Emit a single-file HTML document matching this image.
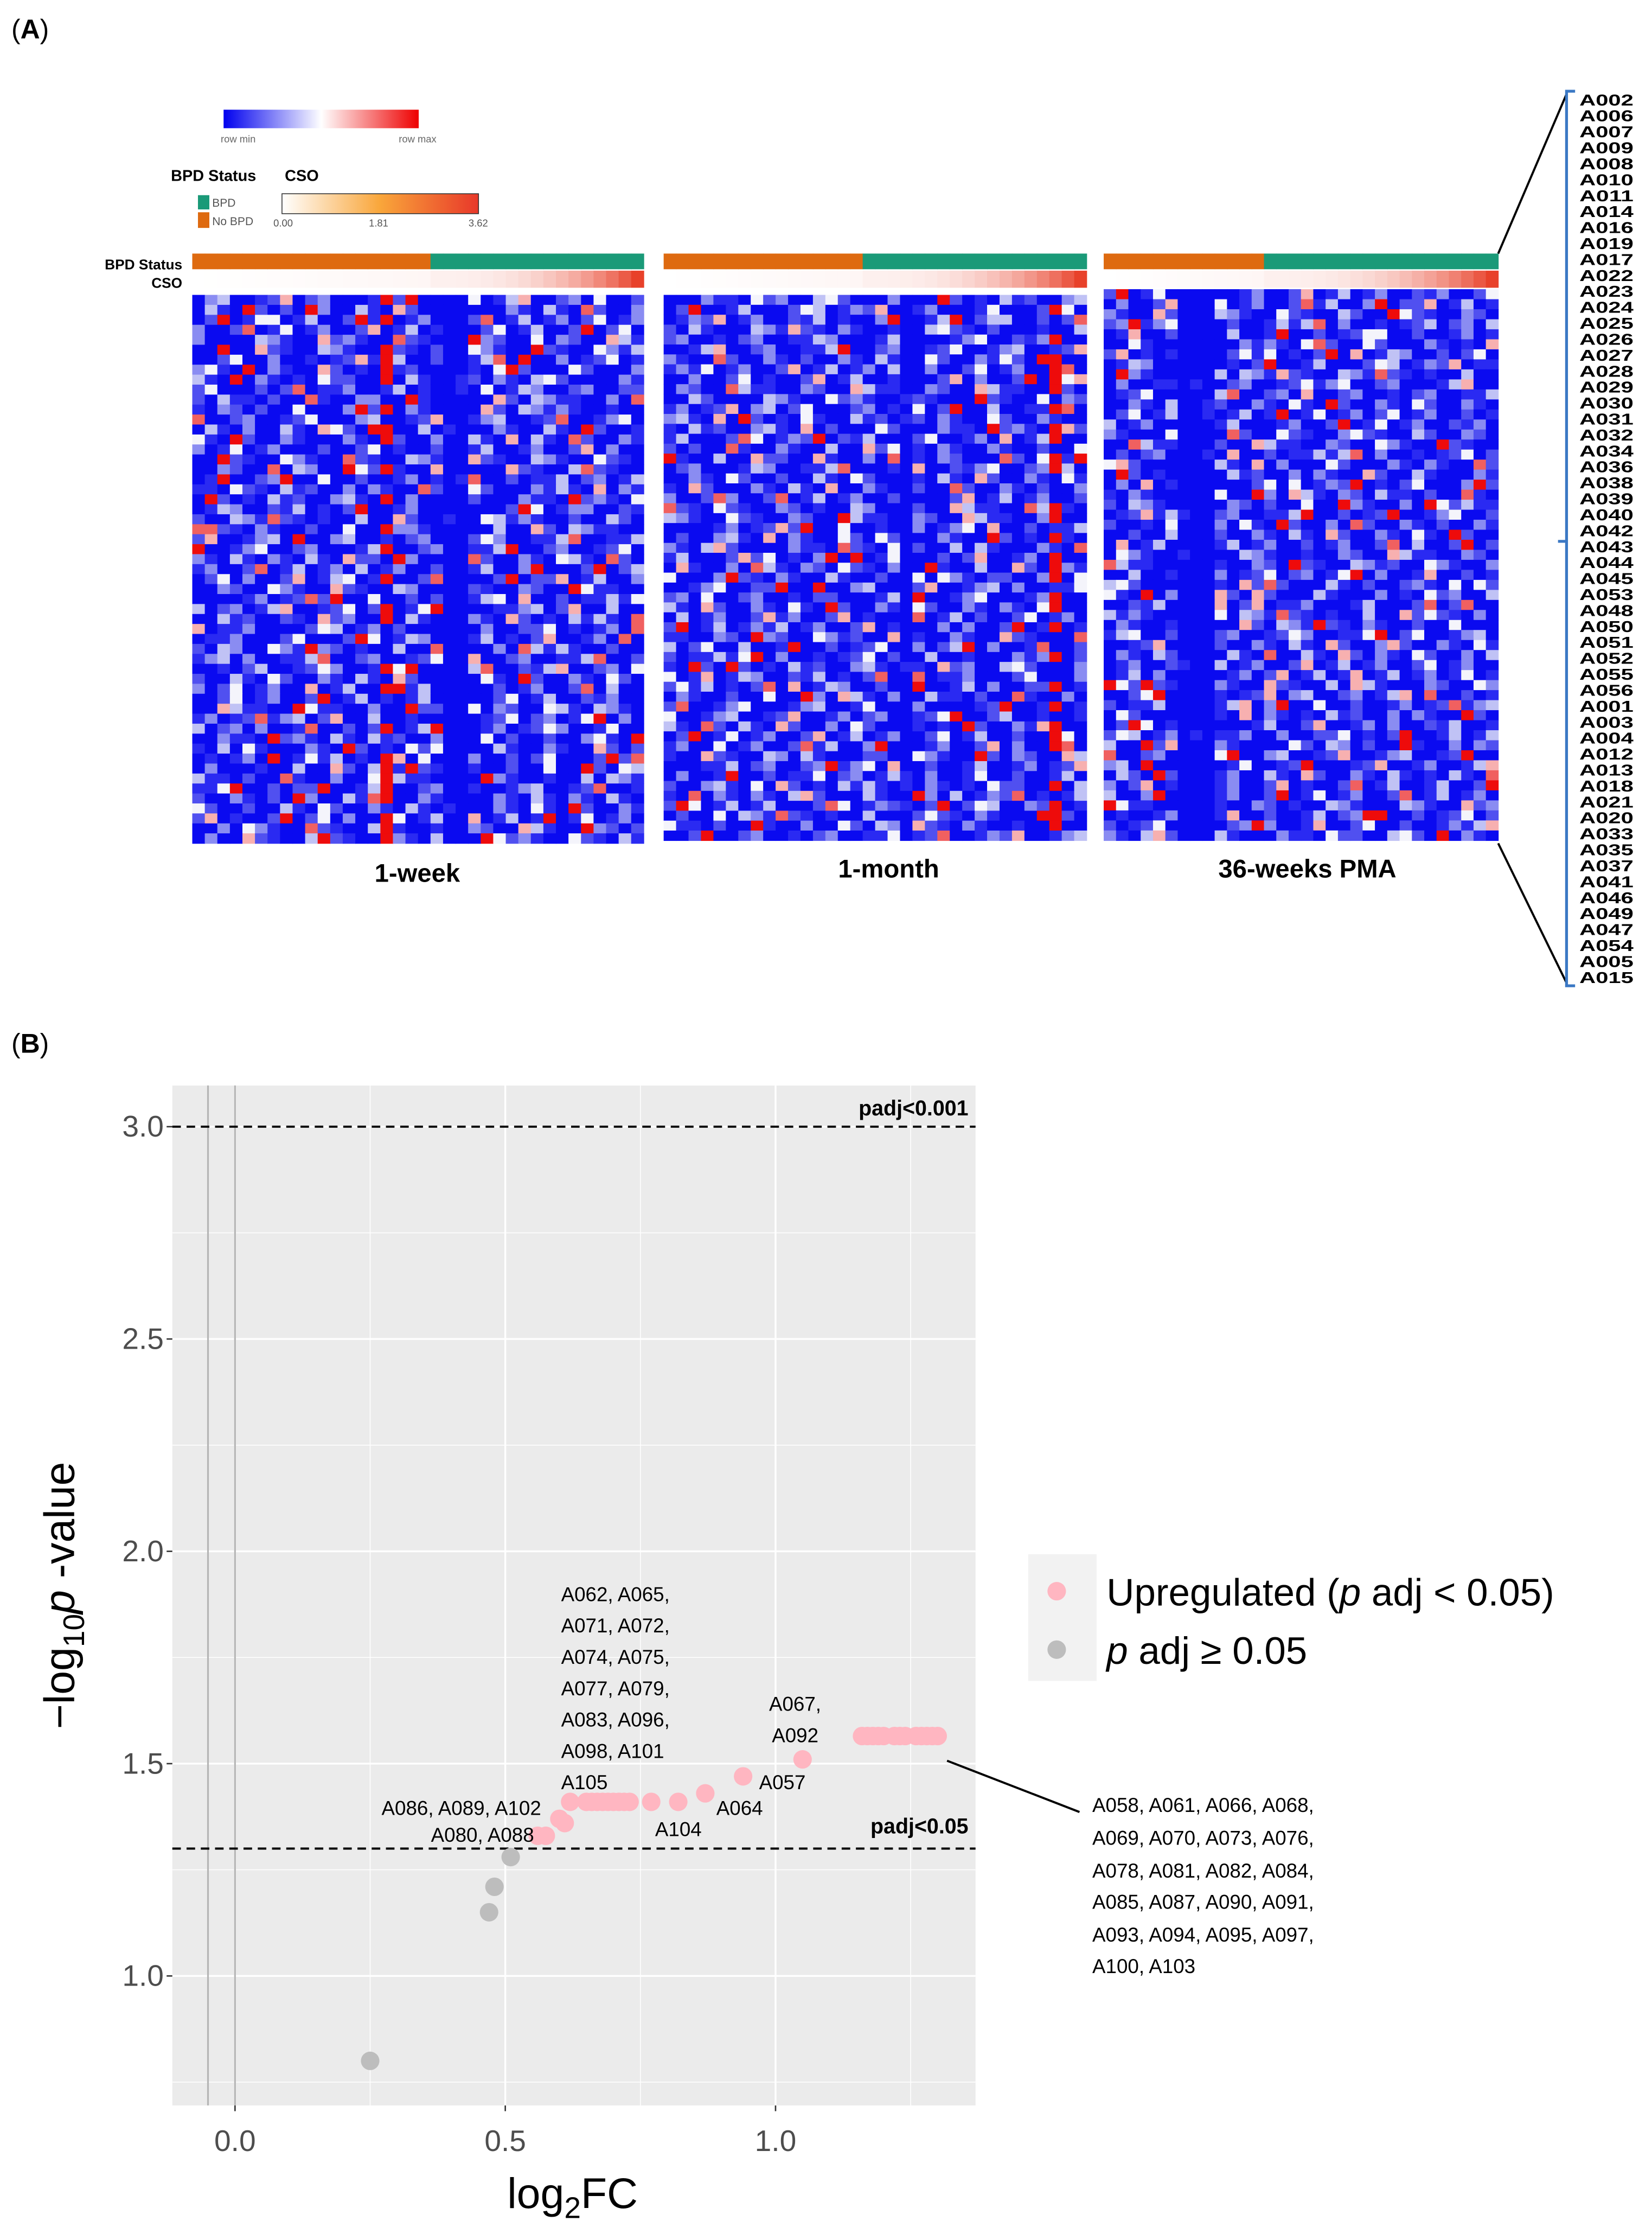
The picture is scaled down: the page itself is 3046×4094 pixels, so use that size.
<!DOCTYPE html>
<html><head><meta charset="utf-8">
<style>
html,body{margin:0;padding:0;background:#fff;}
svg{display:block;}
text{font-family:"Liberation Sans",sans-serif;}
</style></head>
<body>
<svg id="fig" width="3046" height="4094" viewBox="0 0 1160 1559.1" xmlns="http://www.w3.org/2000/svg">
<defs>
<linearGradient id="rowgrad" x1="0" x2="1"><stop offset="0" stop-color="#0000ee"/><stop offset="0.5" stop-color="#ffffff"/><stop offset="1" stop-color="#ee0000"/></linearGradient>
<linearGradient id="csograd" x1="0" x2="1"><stop offset="0" stop-color="#ffffff"/><stop offset="0.5" stop-color="#f9a63a"/><stop offset="1" stop-color="#e8382a"/></linearGradient>
</defs>
<text x="8" y="27" font-family="Liberation Serif" font-size="19">(<tspan font-weight="bold">A</tspan>)</text>
<text x="8" y="739" font-family="Liberation Serif" font-size="19">(<tspan font-weight="bold">B</tspan>)</text>

<g>
<rect x="157" y="77" width="137" height="13" fill="url(#rowgrad)"/>
<text x="155" y="100" font-size="7" fill="#666">row min</text>
<text x="280" y="100" font-size="7" fill="#666">row max</text>
<text x="120" y="127" font-size="11" font-weight="bold">BPD Status</text>
<text x="200" y="127" font-size="11" font-weight="bold">CSO</text>
<rect x="139" y="137" width="8" height="10" fill="#1a9a78"/>
<rect x="139" y="149" width="8" height="11" fill="#de6a10"/>
<text x="149" y="145" font-size="8" fill="#555">BPD</text>
<text x="149" y="158" font-size="8" fill="#555">No BPD</text>
<rect x="198" y="136" width="138" height="14" fill="url(#csograd)" stroke="#333" stroke-width="0.6"/>
<text x="192" y="159" font-size="7" fill="#555">0.00</text>
<text x="259" y="159" font-size="7" fill="#555">1.81</text>
<text x="329" y="159" font-size="7" fill="#555">3.62</text>
<text x="128" y="189" font-size="10" font-weight="bold" text-anchor="end">BPD Status</text>
<text x="128" y="202" font-size="10" font-weight="bold" text-anchor="end">CSO</text>
</g>
<g id="heatmaps"></g>
<text x="293" y="619" font-size="18" font-weight="bold" text-anchor="middle">1-week</text>
<text x="624" y="616" font-size="18" font-weight="bold" text-anchor="middle">1-month</text>
<text x="918" y="616" font-size="18" font-weight="bold" text-anchor="middle">36-weeks PMA</text>
<g>
<line x1="1052" y1="178" x2="1100" y2="66" stroke="#000" stroke-width="1.5"/>
<line x1="1052" y1="592" x2="1100" y2="690" stroke="#000" stroke-width="1.5"/>
<path d="M1106 64 H1100 V692 H1106 M1100 380 H1094" fill="none" stroke="#3b78c4" stroke-width="2"/>
</g>
<g id="rowlabels"></g>

<g id="volcano"></g>
</svg>
<script>
// ---------- heatmap data ----------
const rowLabels=["A002","A006","A007","A009","A008","A010","A011","A014","A016","A019","A017","A022","A023","A024","A025","A026","A027","A028","A029","A030","A031","A032","A034","A036","A038","A039","A040","A042","A043","A044","A045","A053","A048","A050","A051","A052","A055","A056","A001","A003","A004","A012","A013","A018","A021","A020","A033","A035","A037","A041","A046","A049","A047","A054","A005","A015"];
const panelCols=[36,34,32];
const panelNoBPD=[19,16,13];
const panelBlueCols=[[20,21],[19],[6,7,8]];
const panelRedCols=[[15],[31],[]];
const SVGNS="http://www.w3.org/2000/svg";
function mk(tag,attrs,parent){const e=document.createElementNS(SVGNS,tag);for(const k in attrs)e.setAttribute(k,attrs[k]);parent.appendChild(e);return e;}
const rl=document.getElementById('rowlabels');
rowLabels.forEach((l,i)=>{
 const t=mk('text',{x:1109,y:74+i*11.2,'font-size':11,'font-weight':'bold','textLength':38,'lengthAdjust':'spacingAndGlyphs'},rl);
 
 
 t.textContent=l;
});
const geom=[{x0:135,x1:452,sy:178,hy:207,hy1:592},{x0:466,x1:763,sy:178,hy:207,hy1:590},{x0:775,x1:1052,sy:178,hy:203,hy1:590}];
const hg=document.getElementById('heatmaps');
function hsh(a,b,c){let h=(a*374761393+b*668265263+c*2147483647)>>>0;h=(h^(h>>>13))*1274126177>>>0;h=h^(h>>>16);return (h>>>0)/4294967296;}
const palette=["#0a0af0","#2a2af2","#5050f0","#8a8cf2","#c0c2f5","#f4f4fb","#f7b0b0","#f06060","#ee0b0b"];
geom.forEach((g,p)=>{
 const grp=mk('g',{},hg);
 
 
 const n=panelCols[p],cw=(g.x1-g.x0)/n,nr=rowLabels.length-1,rh=(g.hy1-g.hy)/nr;
 for(let c=0;c<n;c++){
  const s=mk('rect',{x:g.x0+c*cw,y:g.sy,width:cw+0.3,height:11,fill:c<panelNoBPD[p]?'#de6a10':'#1a9a78'},grp);
  
  
  const f=c<panelNoBPD[p]?0.05*c/panelNoBPD[p]:0.08+0.92*Math.pow((c-panelNoBPD[p])/(n-panelNoBPD[p]-1),2.5);
  const r=Math.round(255-f*23),gg=Math.round(255-f*190),b=Math.round(255-f*213);
  const cs=mk('rect',{x:g.x0+c*cw,y:g.sy+12,width:cw+0.3,height:12,fill:`rgb(${r},${gg},${b})`},grp);
  
  
 }
 for(let r=0;r<nr;r++)for(let c=0;c<n;c++){
  let v=hsh(p+1,r+3,c+7);
  let idx=v<0.42?0:v<0.58?1:v<0.7?2:v<0.8?3:v<0.87?4:v<0.92?5:v<0.95?6:v<0.97?7:8;
  if(panelBlueCols[p].includes(c))idx=v<0.93?0:1;
  if(panelRedCols[p].includes(c)&&v>0.55)idx=8;
  const cell=mk('rect',{x:g.x0+c*cw,y:g.hy+r*rh,width:cw+0.3,height:rh+0.3,fill:palette[idx]},grp);
  
  
 }
});

// ---------- volcano data ----------
const log2fc=[0.25,0.47,0.48,0.51,0.56,0.575,0.60,0.61,0.62,0.65,0.66,0.67,0.68,0.69,0.70,0.71,0.72,0.73,0.77,0.82,0.87,0.94,1.05,1.16,1.17,1.18,1.19,1.20,1.22,1.23,1.24,1.26,1.27,1.28,1.29,1.30];
const negLogP=[0.80,1.15,1.21,1.28,1.33,1.33,1.37,1.36,1.41,1.41,1.41,1.41,1.41,1.41,1.41,1.41,1.41,1.41,1.41,1.41,1.43,1.47,1.51,1.565,1.565,1.565,1.565,1.565,1.565,1.565,1.565,1.565,1.565,1.565,1.565,1.565];
const sigGroup=["ns","ns","ns","ns","up","up","up","up","up","up","up","up","up","up","up","up","up","up","up","up","up","up","up","up","up","up","up","up","up","up","up","up","up","up","up","up"];
const xTicks=[0.0,0.5,1.0];
const yTicks=[1.0,1.5,2.0,2.5,3.0];
const thresholds=[1.3,3.0];
const xDom=[-0.116,1.37], yDom=[0.695,3.097];
const PL=121,PR=685,PT=762,PB=1478;
const xs=v=>PL+(v-xDom[0])/(xDom[1]-xDom[0])*(PR-PL);
const ys=v=>PB-(v-yDom[0])/(yDom[1]-yDom[0])*(PB-PT);
const V=document.getElementById('volcano');
const bg=mk('rect',{x:PL,y:PT,width:PR-PL,height:PB-PT,fill:'#ebebeb'},V);


for(let v=0.25;v<1.37;v+=0.5){const l=mk('line',{x1:xs(v),x2:xs(v),y1:PT,y2:PB,stroke:'#fff','stroke-width':0.6},V);}
for(let v=0.75;v<3.1;v+=0.5){const l=mk('line',{x1:PL,x2:PR,y1:ys(v),y2:ys(v),stroke:'#fff','stroke-width':0.6},V);}
xTicks.forEach(v=>{
 const l=mk('line',{x1:xs(v),x2:xs(v),y1:PT,y2:PB,stroke:'#fff','stroke-width':1.3},V);
 
 const t=mk('text',{x:xs(v),y:PB+32,'font-size':21,fill:'#4d4d4d','text-anchor':'middle'},V);
 
 t.textContent=v.toFixed(1);
 mk('line',{x1:xs(v),x2:xs(v),y1:PB,y2:PB+4,stroke:'#333'},V);
});
yTicks.forEach(v=>{
 const l=mk('line',{x1:PL,x2:PR,y1:ys(v),y2:ys(v),stroke:'#fff','stroke-width':1.3},V);
 
 const t=mk('text',{x:PL-6,y:ys(v)+7,'font-size':21,fill:'#4d4d4d','text-anchor':'end'},V);
 
 t.textContent=v.toFixed(1);
 mk('line',{x1:PL-4,x2:PL,y1:ys(v),y2:ys(v),stroke:'#333'},V);
});
[-0.05,0].forEach(v=>{const l=mk('line',{x1:xs(v),x2:xs(v),y1:PT,y2:PB,stroke:'#b5b5b5','stroke-width':1.2},V);});
thresholds.forEach(v=>{const l=mk('line',{x1:PL,x2:PR,y1:ys(v),y2:ys(v),stroke:'#000','stroke-width':1.5,'stroke-dasharray':'6,4'},V);});
log2fc.forEach((x,i)=>{
 const c=mk('circle',{cx:xs(x),cy:ys(negLogP[i]),r:6.5,fill:sigGroup[i]==='up'?'#ffb6c1':'#bdbdbd'},V);
 
 
});
</script>
<script>
const svg=document.getElementById('fig');
const ann=`
<g font-family="Liberation Sans" font-size="14">
<text x="394" y="1124">A062, A065,</text><text x="394" y="1146">A071, A072,</text><text x="394" y="1168">A074, A075,</text><text x="394" y="1190">A077, A079,</text><text x="394" y="1212">A083, A096,</text><text x="394" y="1234">A098, A101</text><text x="394" y="1256">A105</text>
<text x="540" y="1201">A067,</text><text x="542" y="1223">A092</text>
<text x="533" y="1256">A057</text><text x="503" y="1274">A064</text><text x="460" y="1289">A104</text>
<text x="380" y="1274" text-anchor="end">A086, A089, A102</text><text x="375" y="1293" text-anchor="end">A080, A088</text>
<text x="767" y="1272">A058, A061, A066, A068,</text><text x="767" y="1295">A069, A070, A073, A076,</text><text x="767" y="1318">A078, A081, A082, A084,</text><text x="767" y="1340">A085, A087, A090, A091,</text><text x="767" y="1363">A093, A094, A095, A097,</text><text x="767" y="1385">A100, A103</text>
</g>
<line x1="665" y1="1236" x2="758" y2="1272" stroke="#000" stroke-width="1.5"/>
<text x="680" y="783" font-size="15" font-weight="bold" text-anchor="end">padj&lt;0.001</text>
<text x="680" y="1287" font-size="15" font-weight="bold" text-anchor="end">padj&lt;0.05</text>
<text x="402" y="1550" font-size="30" text-anchor="middle">log<tspan font-size="21" dy="7">2</tspan><tspan dy="-7">FC</tspan></text>
<text transform="translate(52,1120) rotate(-90)" font-size="30" text-anchor="middle">−log<tspan font-size="21" dy="7">10</tspan><tspan dy="-7" font-style="italic">p</tspan> -value</text>
<g>
<rect x="722" y="1091" width="48" height="89" fill="#f2f2f2"/>
<circle cx="742" cy="1117" r="6.5" fill="#ffb6c1"/>
<circle cx="742" cy="1158" r="6.5" fill="#bdbdbd"/>
<text x="777" y="1127" font-size="27">Upregulated (<tspan font-style="italic">p</tspan> adj &lt; 0.05)</text>
<text x="777" y="1168" font-size="27"><tspan font-style="italic">p</tspan> adj ≥ 0.05</text>
</g>`;
svg.insertAdjacentHTML('beforeend',ann);
</script>
</body></html>
